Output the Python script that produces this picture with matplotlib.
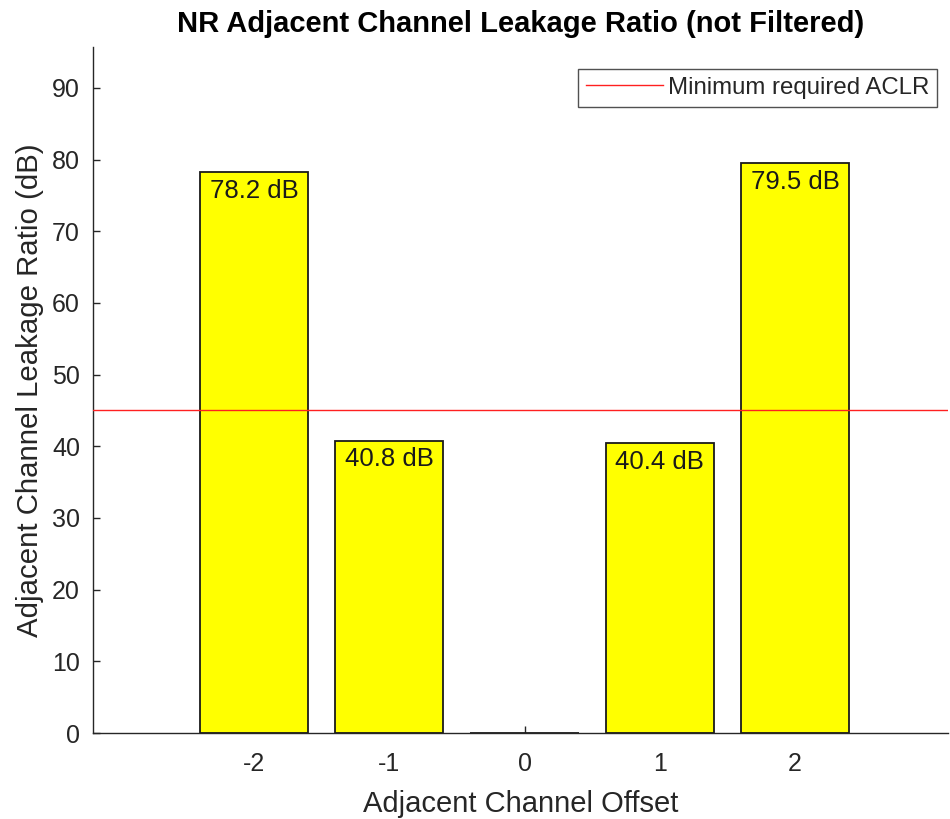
import matplotlib
matplotlib.use("Agg")
import matplotlib.pyplot as plt

plt.rcParams['font.family'] = ['Liberation Sans', 'DejaVu Sans']
plt.rcParams['axes.unicode_minus'] = False

offsets = [-2, -1, 0, 1, 2]
aclr_db = [78.2, 40.8, 0.0, 40.4, 79.5]
min_required_db = 45.0
yticks = [0, 10, 20, 30, 40, 50, 60, 70, 80, 90]

axis_gray = '#262626'

fig = plt.figure(figsize=(9.5, 8.19), dpi=100)
ax = fig.add_axes([0.0979, 0.105, 0.9, 0.8376])

ax.bar(offsets, aclr_db, width=0.8, color='#ffff00', edgecolor='#1a1a1a',
       linewidth=1.3, zorder=2)

for x, v in zip(offsets, aclr_db):
    if v > 0:
        ax.text(x, v - 0.9, f'{v:.1f} dB', ha='center', va='top',
                fontsize=18.5, color='#1a1a1a', zorder=4)

ax.axhline(min_required_db, color='#ff2020', linewidth=1.0, zorder=3,
           label='Minimum required ACLR')

ax.set_xlim(-3.19, 3.13)
ax.set_ylim(0, 95.7)
ax.set_xticks(offsets)
ax.set_yticks(yticks)

for side in ('top', 'right'):
    ax.spines[side].set_visible(False)
for side in ('left', 'bottom'):
    ax.spines[side].set_color(axis_gray)
    ax.spines[side].set_linewidth(1.0)

ax.tick_params(direction='in', length=5, width=1.0, colors=axis_gray,
               labelsize=18)
ax.tick_params(axis='x', pad=13.5)
ax.tick_params(axis='y', pad=9.4)

ax.set_title('NR Adjacent Channel Leakage Ratio (not Filtered)',
             fontsize=21, fontweight='bold', color='black', pad=11)
ax.set_xlabel('Adjacent Channel Offset', fontsize=21, color=axis_gray,
              labelpad=10)
ax.set_ylabel('Adjacent Channel Leakage Ratio (dB)', fontsize=21.2,
              color=axis_gray, labelpad=6)

leg = ax.legend(loc='upper right', bbox_to_anchor=(0.987, 0.968),
                fontsize=17.3, frameon=True, fancybox=False,
                handlelength=3.2, handletextpad=0.2, borderpad=0.33,
                borderaxespad=0.0)
leg.get_frame().set_edgecolor(axis_gray)
leg.get_frame().set_linewidth(1.0)
for t in leg.get_texts():
    t.set_color(axis_gray)

fig.savefig('out.png', dpi=100)
